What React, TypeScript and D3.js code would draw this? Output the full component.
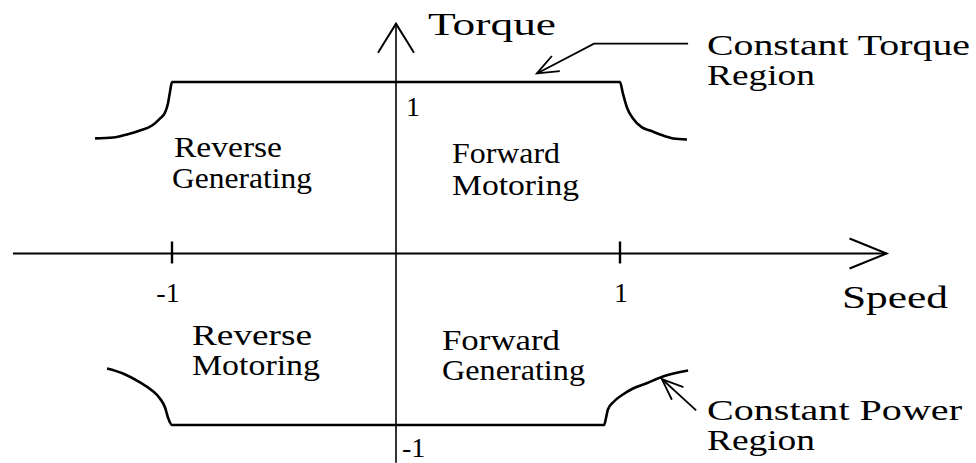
import * as d3 from "d3";
import { useEffect, useRef } from "react";

// speed / torque in per-unit
const SPEED_AXIS = [-1.71, 2.19];
const TORQUE_AXIS = [-1.22, 1.34];
const SPEED_TICKS = [-1, 1];
const TORQUE_TICKS = [1, -1];

// motoring/generating envelope, upper half (speed, torque)
const TOP_SPEED = [-1.344, -1.263, -1.201, -1.143, -1.089, -1.054, -1.031, -1.018, -1.009, -1.0, 1.0, 1.013, 1.031, 1.058, 1.098, 1.134, 1.179, 1.237, 1.299];
const TOP_TORQUE = [0.671, 0.676, 0.694, 0.717, 0.746, 0.787, 0.822, 0.875, 0.942, 1.0, 1.0, 0.933, 0.851, 0.787, 0.735, 0.717, 0.694, 0.671, 0.665];

// lower half
const BOTTOM_SPEED = [-1.29, -1.219, -1.143, -1.089, -1.054, -1.031, -1.018, -1.0, 0.929, 0.938, 0.946, 0.973, 1.013, 1.058, 1.116, 1.192, 1.304];
const BOTTOM_TORQUE = [-0.671, -0.7, -0.752, -0.799, -0.845, -0.898, -0.956, -1.0, -1.0, -0.956, -0.91, -0.863, -0.822, -0.787, -0.758, -0.717, -0.682];

// callout leaders
const TORQUE_CALLOUT_SPEED = [1.304, 0.884, 0.629];
const TORQUE_CALLOUT_TORQUE = [1.224, 1.224, 1.05];
const POWER_CALLOUT_SPEED = [1.34, 1.187];
const POWER_CALLOUT_TORQUE = [-0.915, -0.732];

const QUADRANT_LABELS = [
	["Reverse", "Generating"],
	["Forward", "Motoring"],
	["Reverse", "Motoring"],
	["Forward", "Generating"],
];
const TORQUE_CALLOUT_TEXT = ["Constant Torque", "Region"];
const POWER_CALLOUT_TEXT = ["Constant Power", "Region"];
const AXIS_TITLES = ["Speed", "Torque"];

const WIDTH = 976;
const HEIGHT = 463;
const FONT = "'Liberation Serif', 'Times New Roman', serif";

const App = () => {
	const svgRef = useRef(null);

	useEffect(() => {
		const x = d3.scaleLinear().domain([-1, 1]).range([172, 620]);
		const y = d3.scaleLinear().domain([-1, 1]).range([425, 82]);

		const svg = d3.select(svgRef.current);
		svg.selectAll("*").remove();

		const stroke = "#000";

		// axes
		const x0 = x(0);
		const y0 = y(0);
		svg.append("line")
			.attr("x1", x(SPEED_AXIS[0]))
			.attr("x2", x(SPEED_AXIS[1]))
			.attr("y1", y0)
			.attr("y2", y0)
			.attr("stroke", stroke)
			.attr("stroke-width", 2.2);
		svg.append("line")
			.attr("x1", x0)
			.attr("x2", x0)
			.attr("y1", y(TORQUE_AXIS[0]))
			.attr("y2", y(TORQUE_AXIS[1]))
			.attr("stroke", stroke)
			.attr("stroke-width", 1.6);

		// open arrow heads on axis ends
		const xEnd = x(SPEED_AXIS[1]);
		svg.append("path")
			.attr("d", `M${xEnd - 37},${y0 - 15}L${xEnd},${y0}L${xEnd - 37},${y0 + 15}`)
			.attr("fill", "none")
			.attr("stroke", stroke)
			.attr("stroke-width", 2);
		const yEnd = y(TORQUE_AXIS[1]);
		svg.append("path")
			.attr("d", `M${x0 - 18},${yEnd + 29}L${x0},${yEnd}L${x0 + 18},${yEnd + 29}`)
			.attr("fill", "none")
			.attr("stroke", stroke)
			.attr("stroke-width", 2);

		// speed ticks
		svg.selectAll(".tick")
			.data(SPEED_TICKS)
			.enter()
			.append("line")
			.attr("x1", (d) => x(d))
			.attr("x2", (d) => x(d))
			.attr("y1", y0 - 12)
			.attr("y2", y0 + 10)
			.attr("stroke", stroke)
			.attr("stroke-width", 2.4);

		// envelope curves
		const envelope = d3
			.line<[number, number]>()
			.x((d) => x(d[0]))
			.y((d) => y(d[1]))
			.curve(d3.curveMonotoneX);
		const top = TOP_SPEED.map((s, i) => [s, TOP_TORQUE[i]] as [number, number]);
		const bottom = BOTTOM_SPEED.map((s, i) => [s, BOTTOM_TORQUE[i]] as [number, number]);
		[top, bottom].forEach((pts) => {
			svg.append("path")
				.attr("d", envelope(pts))
				.attr("fill", "none")
				.attr("stroke", stroke)
				.attr("stroke-width", 2.6)
				.attr("stroke-linejoin", "round");
		});

		// callout arrows
		const straight = d3
			.line<[number, number]>()
			.x((d) => x(d[0]))
			.y((d) => y(d[1]));
		const arrowHead = (pts: [number, number][], len: number, spread: number) => {
			const n = pts.length;
			const tx = x(pts[n - 1][0]);
			const ty = y(pts[n - 1][1]);
			const ang = Math.atan2(y(pts[n - 2][1]) - ty, x(pts[n - 2][0]) - tx);
			const a1 = ang - spread;
			const a2 = ang + spread;
			return `M${tx + len * Math.cos(a1)},${ty + len * Math.sin(a1)}L${tx},${ty}L${tx + len * Math.cos(a2)},${ty + len * Math.sin(a2)}`;
		};
		const tq = TORQUE_CALLOUT_SPEED.map((s, i) => [s, TORQUE_CALLOUT_TORQUE[i]] as [number, number]);
		const pw = POWER_CALLOUT_SPEED.map((s, i) => [s, POWER_CALLOUT_TORQUE[i]] as [number, number]);
		[tq, pw].forEach((pts) => {
			svg.append("path")
				.attr("d", straight(pts))
				.attr("fill", "none")
				.attr("stroke", stroke)
				.attr("stroke-width", 1.8);
			svg.append("path")
				.attr("d", arrowHead(pts, 23, 0.38))
				.attr("fill", "none")
				.attr("stroke", stroke)
				.attr("stroke-width", 1.8);
		});

		// text
		const text = (t: string, tx: number, ty: number, size: number, w?: number) => {
			const el = svg.append("text")
				.attr("x", tx)
				.attr("y", ty)
				.attr("font-family", FONT)
				.attr("font-size", size)
				.attr("fill", "#000")
				.text(t);
			if (w) el.attr("textLength", w).attr("lengthAdjust", "spacingAndGlyphs");
		};

		text(AXIS_TITLES[1], 428, 35, 32, 128);
		text(AXIS_TITLES[0], 842, 308, 32, 106);

		text(TORQUE_CALLOUT_TEXT[0], 707, 55, 30, 263);
		text(TORQUE_CALLOUT_TEXT[1], 707, 85, 30, 108);
		text(POWER_CALLOUT_TEXT[0], 707, 420, 30, 255);
		text(POWER_CALLOUT_TEXT[1], 707, 450, 30, 108);

		// torque tick labels beside the vertical axis
		text(String(TORQUE_TICKS[0]), x0 + 10, y(TORQUE_TICKS[0]) + 34, 28);
		text(String(TORQUE_TICKS[1]), x0 + 6, y(TORQUE_TICKS[1]) + 32, 28);
		// speed tick labels
		SPEED_TICKS.forEach((s) => {
			svg.append("text")
				.attr("x", x(s) + (s < 0 ? -4 : 1))
				.attr("y", y0 + 48)
				.attr("text-anchor", "middle")
				.attr("font-family", FONT)
				.attr("font-size", 28)
				.attr("fill", "#000")
				.text(String(s));
		});

		const quadPos = [
			[174, 157, 108, 172, 188, 140],
			[452, 163, 108, 452, 195, 127],
			[192, 345, 120, 192, 375, 128],
			[442, 350, 118, 442, 380, 143],
		];
		QUADRANT_LABELS.forEach((lines, i) => {
			const p = quadPos[i];
			text(lines[0], p[0], p[1], 30, p[2]);
			text(lines[1], p[3], p[4], 30, p[5]);
		});
	}, []);

	return (
		<svg
			ref={svgRef}
			width={WIDTH}
			height={HEIGHT}
			style={{ position: "absolute", left: 0, top: 0, background: "#fff" }}
		/>
	);
};

export default App;
